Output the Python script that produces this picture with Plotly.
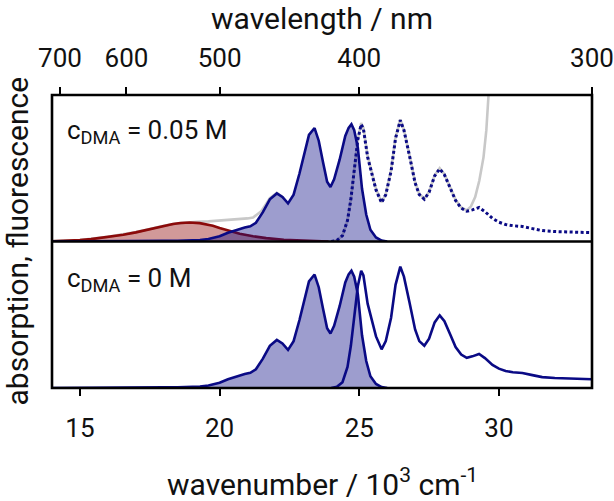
import plotly.graph_objects as go

# ---- data (wavenumber in 10^3 cm^-1, normalised intensity) ----
# fluorescence of the compound (same spectrum in both panels)
fl_x = [14.0, 15.0, 16.0, 17.0, 18.0, 18.5, 19.0, 19.3, 19.6, 20.0, 20.3, 20.6, 20.9, 21.1,
        21.3, 21.55, 21.8, 22.05, 22.25, 22.45, 22.65, 22.86, 23.05, 23.2, 23.4, 23.55,
        23.7, 23.85, 23.97, 24.1, 24.3, 24.5, 24.62, 24.72, 24.82, 24.95, 25.1, 25.25,
        25.4, 25.6, 25.8, 26.0]
fl_y = [0.0, 0.0, 0.002, 0.004, 0.006, 0.007, 0.008, 0.012, 0.022, 0.045, 0.075, 0.10,
        0.12, 0.13, 0.16, 0.25, 0.36, 0.41, 0.38, 0.325, 0.40, 0.58, 0.78, 0.91, 0.968,
        0.86, 0.68, 0.51, 0.465, 0.53, 0.70, 0.90, 0.97, 1.0, 0.95, 0.80, 0.45, 0.23,
        0.10, 0.035, 0.008, 0.0]

# absorption of the compound (solid in lower panel, dotted in upper panel)
ab_x = [24.0, 24.2, 24.4, 24.58, 24.7, 24.82, 24.95, 25.07, 25.15, 25.3, 25.45, 25.6,
        25.8, 25.95, 26.14, 26.3, 26.47, 26.6, 26.8, 27.0, 27.15, 27.33, 27.5, 27.7,
        27.88, 28.05, 28.25, 28.45, 28.65, 28.85, 29.05, 29.29, 29.5, 29.77, 30.0,
        30.24, 30.5, 30.84, 31.2, 31.55, 32.0, 32.5, 33.0, 33.33]
ab_y = [0.0, 0.01, 0.05, 0.18, 0.36, 0.62, 0.87, 1.0, 0.96, 0.72, 0.58, 0.44, 0.33,
        0.40, 0.60, 0.88, 1.035, 0.95, 0.73, 0.50, 0.40, 0.36, 0.42, 0.56, 0.62, 0.57,
        0.46, 0.35, 0.285, 0.258, 0.27, 0.29, 0.255, 0.197, 0.165, 0.145, 0.135,
        0.128, 0.11, 0.093, 0.085, 0.08, 0.076, 0.075]

# exciplex emission with DMA (upper panel, red)
ex_x = [14.0, 14.5, 15.0, 15.4, 16.0, 16.55, 17.0, 17.5, 18.0, 18.33, 18.6, 18.93,
        19.29, 19.76, 20.0, 20.48, 20.72, 21.2, 21.67, 22.3, 22.86, 23.4, 23.9]
ex_y = [0.002, 0.005, 0.012, 0.02, 0.037, 0.057, 0.078, 0.105, 0.13, 0.15, 0.158,
        0.162, 0.157, 0.135, 0.115, 0.085, 0.066, 0.045, 0.029, 0.015, 0.009, 0.004, 0.0]

# total emission with DMA (grey, lower-energy part)
te_x = [14.0, 15.0, 16.0, 17.0, 17.5, 18.0, 18.5, 18.93, 19.2, 19.6, 20.0, 20.5, 21.0,
        21.2, 21.5, 21.8, 22.05, 22.3]
te_y = [0.003, 0.012, 0.04, 0.08, 0.107, 0.135, 0.155, 0.165, 0.168, 0.172, 0.178,
        0.19, 0.197, 0.205, 0.26, 0.37, 0.415, 0.37]

# total absorption with DMA (grey, higher-energy part)
ta_x = [24.0, 24.2, 24.4, 24.58, 24.7, 24.82, 24.95, 25.07, 25.15, 25.3, 25.45, 25.6,
        25.8, 25.95, 26.14, 26.3, 26.47, 26.6, 26.8, 27.0, 27.15, 27.33, 27.5, 27.7,
        27.88, 28.05, 28.25, 28.45, 28.65, 28.85, 29.0, 29.15, 29.3, 29.45, 29.55,
        29.65, 29.72]
ta_y = [0.0, 0.01, 0.05, 0.18, 0.36, 0.62, 0.87, 1.01, 0.97, 0.73, 0.59, 0.45, 0.335,
        0.405, 0.61, 0.89, 1.04, 0.955, 0.735, 0.505, 0.405, 0.365, 0.425, 0.565, 0.625,
        0.575, 0.465, 0.355, 0.29, 0.265, 0.30, 0.38, 0.52, 0.72, 0.95, 1.3, 1.6]

# tick labels
wl_ticks = [700, 600, 500, 400, 300]   # top axis, wavelength in nm
wn_ticks = [15, 20, 25, 30]            # bottom axis, 10^3 cm^-1

NAVY = "#0a0a85"
NAVY_FILL = "rgba(10,10,133,0.4)"
RED = "#8b0a0a"
RED_FILL = "rgba(139,0,0,0.4)"
GREY = "#c8c8c8"
FONT = "Roboto, sans-serif"
TXT = "#111111"

fig = go.Figure()

# ---- lower panel (c_DMA = 0 M) ----
fig.add_trace(go.Scatter(x=fl_x, y=fl_y, xaxis="x", yaxis="y", mode="lines",
                         line=dict(color=NAVY, width=2.6), fill="tozeroy",
                         fillcolor=NAVY_FILL, hoverinfo="skip"))
fig.add_trace(go.Scatter(x=ab_x, y=ab_y, xaxis="x", yaxis="y", mode="lines",
                         line=dict(color=NAVY, width=2.6), hoverinfo="skip"))

# ---- upper panel (c_DMA = 0.05 M) ----
fig.add_trace(go.Scatter(x=te_x, y=te_y, xaxis="x", yaxis="y2", mode="lines",
                         line=dict(color=GREY, width=2.6), hoverinfo="skip"))
fig.add_trace(go.Scatter(x=ta_x, y=ta_y, xaxis="x", yaxis="y2", mode="lines",
                         line=dict(color=GREY, width=2.6), hoverinfo="skip"))
fig.add_trace(go.Scatter(x=ex_x, y=ex_y, xaxis="x", yaxis="y2", mode="lines",
                         line=dict(color=RED, width=2.6), fill="tozeroy",
                         fillcolor=RED_FILL, hoverinfo="skip"))
fig.add_trace(go.Scatter(x=fl_x, y=fl_y, xaxis="x", yaxis="y2", mode="lines",
                         line=dict(color=NAVY, width=2.6), fill="tozeroy",
                         fillcolor=NAVY_FILL, hoverinfo="skip"))
fig.add_trace(go.Scatter(x=ab_x, y=ab_y, xaxis="x", yaxis="y2", mode="lines",
                         line=dict(color=NAVY, width=3, dash="3px,2.5px"),
                         hoverinfo="skip"))

# trace on the top axis (same data range) so that it is drawn
fig.add_trace(go.Scatter(x=ab_x, y=ab_y, xaxis="x2", yaxis="y2", mode="lines",
                         line=dict(color="rgba(0,0,0,0)", width=0), hoverinfo="skip"))

XR = [14.0, 1e4 / 300]
axis_common = dict(ticks="outside", ticklen=7, tickwidth=2, tickcolor="black",
                   showgrid=False, zeroline=False, showline=False, automargin=False,
                   ticklabelstandoff=10, tickfont=dict(family=FONT, size=26, color=TXT))
fig.update_layout(
    template="none",
    width=614, height=501,
    margin=dict(l=52, r=22, t=95, b=113, autoexpand=False),
    paper_bgcolor="white", plot_bgcolor="white",
    showlegend=False,
    hovermode=False,
    font=dict(family=FONT, size=26, color=TXT),
    xaxis=dict(range=XR, anchor="y", tickvals=wn_ticks, **axis_common),
    xaxis2=dict(range=XR, overlaying="x", anchor="y2", side="top",
                tickvals=[1e4 / w for w in wl_ticks],
                ticktext=[str(w) for w in wl_ticks], **axis_common),
    yaxis=dict(domain=[0, 0.5], range=[0, 1.25], showticklabels=False, ticks="",
               showgrid=False, zeroline=False, showline=False, automargin=False),
    yaxis2=dict(domain=[0.5, 1.0], range=[0, 1.25], showticklabels=False, ticks="",
                showgrid=False, zeroline=False, showline=False, automargin=False),
    shapes=[
        dict(type="rect", xref="paper", yref="paper", x0=0, x1=1, y0=0, y1=1,
             line=dict(color="black", width=2.6)),
        dict(type="line", xref="paper", yref="paper", x0=0, x1=1, y0=0.5, y1=0.5,
             line=dict(color="black", width=2.6)),
    ],
    annotations=[
        dict(text="c<sub>DMA</sub> = 0.05 M", xref="paper", yref="paper", x=0.024,
             y=0.875, xanchor="left", yanchor="middle", showarrow=False,
             font=dict(family=FONT, size=26, color=TXT)),
        dict(text="c<sub>DMA</sub> = 0 M", xref="paper", yref="paper", x=0.024,
             y=0.372, xanchor="left", yanchor="middle", showarrow=False,
             font=dict(family=FONT, size=26, color=TXT)),
        dict(text="wavelength / nm", xref="paper", yref="paper", x=0.5, y=1.0,
             yshift=77, xanchor="center", yanchor="middle", showarrow=False,
             font=dict(family=FONT, size=30, color=TXT)),
        dict(text="wavenumber / 10<sup>3</sup> cm<sup>-1</sup>", xref="paper",
             yref="paper", x=0.5, y=0.0, yshift=-94, xanchor="center",
             yanchor="middle", showarrow=False,
             font=dict(family=FONT, size=30, color=TXT)),
        dict(text="absorption, fluorescence", xref="paper", yref="paper", x=0.0,
             xshift=-35, y=0.5, textangle=-90, xanchor="center", yanchor="middle",
             showarrow=False, font=dict(family=FONT, size=30, color=TXT)),
    ],
)

fig.write_html("out.html",
               config={"displayModeBar": False, "staticPlot": True},
               post_script="document.body.style.margin='0';"
                           "document.body.style.overflow='hidden';")
